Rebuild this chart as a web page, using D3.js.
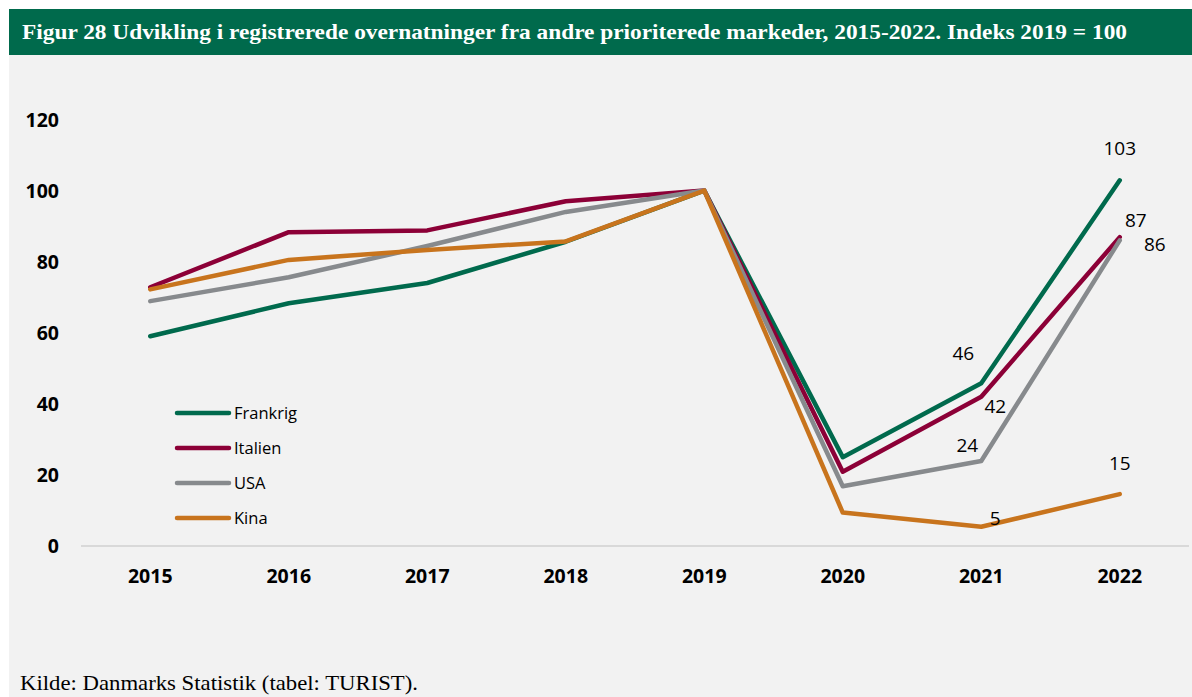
<!DOCTYPE html>
<html><head><meta charset="utf-8">
<script src="https://cdn.jsdelivr.net/npm/d3@7"></script>
<style>
html,body{margin:0;padding:0;background:#fff;}
svg{display:block;}
</style></head>
<body>
<svg id="chart" width="1192" height="697"></svg>
<script>
const years = ["2015","2016","2017","2018","2019","2020","2021","2022"];
const seriesNames = ["Frankrig","Italien","USA","Kina"];
const frankrig = [59, 68.3, 74, 85.6, 100, 25, 45.8, 102.9];
const italien  = [72.8, 88.3, 88.8, 97, 100, 20.9, 42, 86.9];
const usa      = [68.9, 75.6, 84.4, 94, 100, 16.8, 23.9, 86];
const kina     = [72.2, 80.5, 83.3, 85.7, 100, 9.4, 5.4, 14.6];
const colors   = ["#006a4d", "#8c0037", "#878a8d", "#c8741d"];
const yTicks   = [0, 20, 40, 60, 80, 100, 120];
const title = "Figur 28 Udvikling i registrerede overnatninger fra andre prioriterede markeder, 2015-2022. Indeks 2019 = 100";
const source = "Kilde: Danmarks Statistik (tabel: TURIST).";
// labels shown: [seriesIndex, yearIndex, dx, dy]
const labelDefs = [
  [0, 6, -18, -30], [0, 7, 0, -32],
  [1, 6, 14, 10], [1, 7, 16, -17],
  [2, 6, -14, -16], [2, 7, 35, 4],
  [3, 6, 14, -8], [3, 7, 0, -31]
];

const data = [frankrig, italien, usa, kina];
const svg = d3.select("#chart");

svg.append("rect").attr("x", 9).attr("y", 55).attr("width", 1183).attr("height", 642).attr("fill", "#f2f2f2");
svg.append("rect").attr("x", 9).attr("y", 9).attr("width", 1183).attr("height", 46).attr("fill", "#006a4c");
svg.append("text").attr("x", 22).attr("y", 39)
  .attr("font-family", "'Liberation Serif', serif").attr("font-weight", "bold")
  .attr("font-size", 22).attr("fill", "#fff")
  .attr("textLength", 1105).attr("lengthAdjust", "spacingAndGlyphs").text(title);

const x = d3.scaleBand().domain(years).range([81, 1189]);
const y = d3.scaleLinear().domain([0, 120]).range([546, 119.5]);
const cx = d => x(d) + x.bandwidth() / 2;

// baseline
svg.append("line").attr("x1", 81).attr("x2", 1189).attr("y1", y(0)).attr("y2", y(0))
  .attr("stroke", "#d9d9d9").attr("stroke-width", 2);

// y axis
const yAxis = svg.append("g").attr("transform", "translate(59,0)")
  .call(d3.axisLeft(y).tickValues(yTicks).tickSize(0).tickPadding(0));
yAxis.select(".domain").remove();
yAxis.selectAll("text").attr("font-family", "'Open Sans', sans-serif").attr("font-weight", "bold")
  .attr("font-size", 19.5).attr("fill", "#000").attr("dy", "0.35em");

// x axis
const xAxis = svg.append("g").attr("transform", `translate(0,${y(0)})`)
  .call(d3.axisBottom(x).tickSize(0).tickPadding(23));
xAxis.select(".domain").remove();
xAxis.selectAll("text").attr("font-family", "'Open Sans', sans-serif").attr("font-weight", "bold")
  .attr("font-size", 19.5).attr("fill", "#000");

// lines
const line = d3.line().x((d, i) => cx(years[i])).y(d => y(d));
data.forEach((s, k) => {
  svg.append("path").datum(s).attr("d", line).attr("fill", "none")
    .attr("stroke", colors[k]).attr("stroke-width", 4.5)
    .attr("stroke-linecap", "round").attr("stroke-linejoin", "round");
});

// data labels
labelDefs.forEach(([k, i, dx, dy]) => {
  svg.append("text").attr("x", cx(years[i]) + dx).attr("y", y(data[k][i]) + dy)
    .attr("text-anchor", "middle").attr("dy", "0.35em")
    .attr("font-family", "'Open Sans', sans-serif").attr("font-size", 19).attr("fill", "#000")
    .text(d3.format(".0f")(data[k][i]));
});

// legend
const lg = svg.append("g");
seriesNames.forEach((n, k) => {
  const ly = 413 + k * 35;
  lg.append("line").attr("x1", 177).attr("x2", 229).attr("y1", ly).attr("y2", ly)
    .attr("stroke", colors[k]).attr("stroke-width", 4.5).attr("stroke-linecap", "round");
  lg.append("text").attr("x", 234).attr("y", ly).attr("dy", "0.35em")
    .attr("font-family", "'Open Sans', sans-serif").attr("font-size", 16.5).attr("fill", "#000").text(n);
});

svg.append("text").attr("x", 20).attr("y", 690)
  .attr("font-family", "'Liberation Serif', serif").attr("font-size", 21).attr("fill", "#000")
  .attr("textLength", 398).attr("lengthAdjust", "spacingAndGlyphs").text(source);
</script>
</body></html>
